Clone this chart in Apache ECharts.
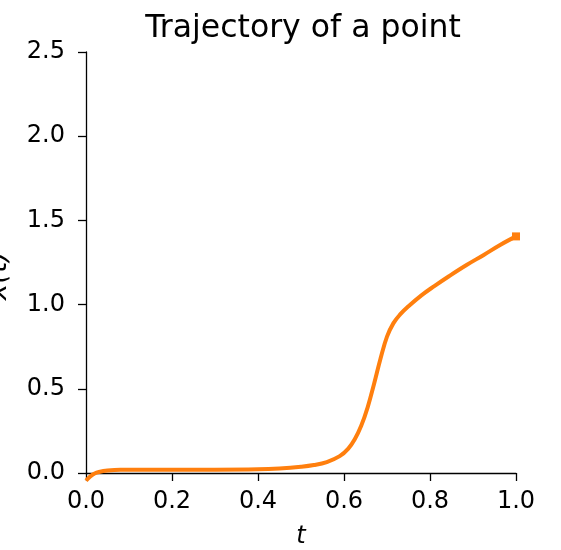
<!DOCTYPE html>
<html>
<head>
<meta charset="utf-8">
<script src="https://cdn.jsdelivr.net/npm/echarts@6/dist/echarts.min.js"></script>
<style>
  html, body { margin: 0; padding: 0; background: #fff; }
  #chart { width: 561px; height: 550px; }
</style>
</head>
<body>
<div id="chart"></div>
<script>
// trajectory samples
const tValues = [0.0, 0.01, 0.02, 0.03, 0.05, 0.08, 0.1, 0.2, 0.3, 0.4, 0.45, 0.5, 0.53, 0.56,
  0.59, 0.61, 0.625, 0.64, 0.655, 0.67, 0.685, 0.7, 0.715, 0.73, 0.75, 0.78, 0.81,
  0.845, 0.885, 0.925, 0.963, 1.0]
const xValues = [-0.045, -0.02, -0.003, 0.006, 0.015, 0.02, 0.02, 0.02, 0.02, 0.022, 0.027, 0.037, 0.047, 0.065,
  0.1, 0.145, 0.2, 0.28, 0.39, 0.53, 0.68, 0.81, 0.89, 0.94, 0.99, 1.055, 1.11,
  1.17, 1.235, 1.295, 1.354, 1.405]
const xTicks = [0.0, 0.2, 0.4, 0.6, 0.8, 1.0]
const yTicks = [0.0, 0.5, 1.0, 1.5, 2.0, 2.5]

const points = tValues.map((t, i) => [t, xValues[i]])
const lastIdx = points.length - 1

const font = 'DejaVu Sans'
const chart = echarts.init(document.getElementById('chart'), null, { renderer: 'canvas' })

chart.setOption({
  animation: false,
  title: {
    text: 'Trajectory of a point',
    left: 298,
    textAlign: 'center',
    top: 8,
    textStyle: { fontFamily: font, fontSize: 31.5, fontWeight: 'normal', color: '#000' }
  },
  grid: { left: 86, right: 45, top: 52, bottom: 77, containLabel: false, outerBoundsMode: 'none' },
  xAxis: {
    type: 'value',
    min: xTicks[0],
    max: xTicks[xTicks.length - 1],
    interval: 0.2,
    name: 't',
    nameLocation: 'middle',
    nameGap: 52,
    nameTextStyle: { fontFamily: font, fontSize: 24, fontStyle: 'italic', color: '#000' },
    axisLine: { show: true, onZero: false, lineStyle: { color: '#000', width: 1.3 } },
    axisTick: { show: true, length: 8, lineStyle: { color: '#000', width: 1.3 } },
    axisLabel: {
      margin: 17,
      fontFamily: font,
      fontSize: 24,
      color: '#000',
      formatter: v => v.toFixed(1)
    },
    splitLine: { show: false }
  },
  yAxis: {
    type: 'value',
    min: yTicks[0],
    max: yTicks[yTicks.length - 1],
    interval: 0.5,
    name: 'x(t)',
    nameLocation: 'middle',
    nameRotate: 90,
    nameGap: 73,
    nameTextStyle: { fontFamily: font, fontSize: 28, fontStyle: 'italic', color: '#000', padding: [0, 26, 0, 0] },
    axisLine: { show: true, onZero: false, lineStyle: { color: '#000', width: 1.3 } },
    axisTick: { show: true, length: 8, lineStyle: { color: '#000', width: 1.3 } },
    axisLabel: {
      margin: 21,
      fontFamily: font,
      fontSize: 24,
      color: '#000',
      formatter: v => v.toFixed(1)
    },
    splitLine: { show: false }
  },
  series: [
    {
      type: 'line',
      data: points,
      smooth: 0.4,
      clip: false,
      showSymbol: true,
      symbol: (val, params) => (params.dataIndex === lastIdx ? 'rect' : 'none'),
      symbolSize: 8,
      itemStyle: { color: '#ff7f0e' },
      lineStyle: { color: '#ff7f0e', width: 4 }
    }
  ]
})
</script>
</body>
</html>
